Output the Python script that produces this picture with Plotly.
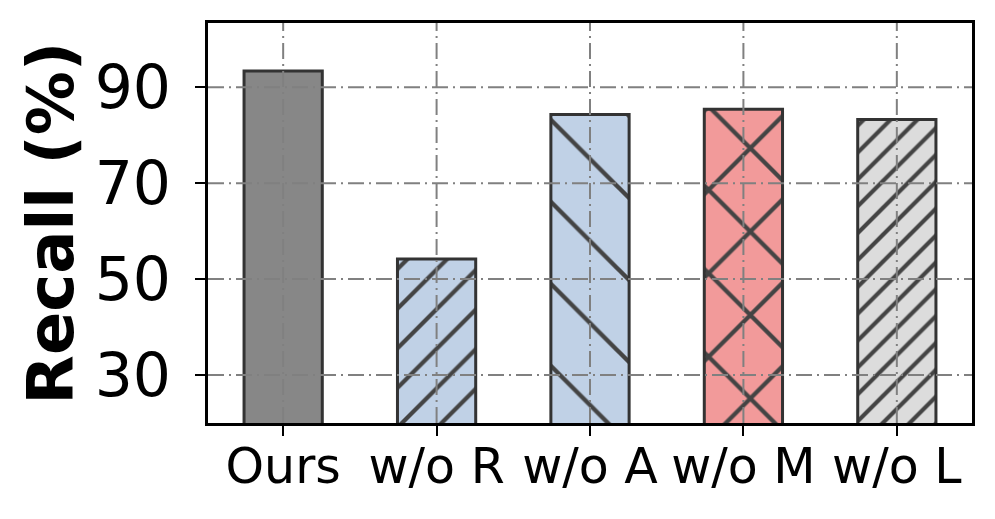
import plotly.graph_objects as go

categories = ["Ours", "w/o R", "w/o A", "w/o M", "w/o L"]
recall = [93.4, 54.2, 84.3, 85.4, 83.3]
fill_colors = ["#878787", "#c0d1e6", "#c0d1e6", "#f29a9a", "#dcdcdc"]
hatch_shapes = ["", "/", "\\", "x", "/"]
hatch_sizes = [10, 28, 58, 59, 19]
hatch_solidity = [0.2, 0.15, 0.075, 0.14, 0.22]
y_ticks = [30, 50, 70, 90]

FONT = "DejaVu Sans"
GRID = dict(color="#808080", width=2, dash="16px,5px,2px,5px")

fig = go.Figure(
    go.Bar(
        x=categories,
        y=recall,
        width=0.51,
        marker=dict(
            color=fill_colors,
            line=dict(color="#333333", width=3),
            pattern=dict(
                shape=hatch_shapes,
                size=hatch_sizes,
                solidity=hatch_solidity,
                fgcolor="#333333",
                fgopacity=1,
                fillmode="overlay",
            ),
        ),
    )
)

# grid drawn above the bars, like the reference
shapes = []
for c in categories:
    shapes.append(dict(type="line", xref="x", yref="paper", x0=c, x1=c,
                       y0=0, y1=1, line=GRID, layer="above"))
for v in y_ticks:
    shapes.append(dict(type="line", xref="paper", yref="y", x0=0, x1=1,
                       y0=v, y1=v, line=GRID, layer="above"))

# page body has an 8px margin, so the figure is a little smaller than the window
fig.update_layout(
    width=987,
    height=511,
    margin=dict(l=200, r=23, t=15, b=96),
    paper_bgcolor="white",
    plot_bgcolor="white",
    font=dict(family=FONT, color="black"),
    showlegend=False,
    shapes=shapes,
    annotations=[
        dict(text="<b>Recall (%)</b>", textangle=-90, xref="paper", yref="paper",
             x=-0.205, y=0.5, xanchor="center", yanchor="middle",
             showarrow=False, font=dict(size=64, family=FONT, color="black"))
    ],
)

fig.update_xaxes(
    range=[-0.49, 4.49],
    showgrid=False,
    showline=True, linecolor="black", linewidth=3, mirror=True,
    ticks="outside", ticklen=10, tickwidth=2, tickcolor="black",
    ticklabelstandoff=-12,
    tickfont=dict(size=49, family=FONT, color="black"),
)
fig.update_yaxes(
    range=[20, 103.4],
    tickvals=y_ticks,
    showgrid=False, zeroline=False,
    showline=True, linecolor="black", linewidth=3, mirror=True,
    ticks="outside", ticklen=10, tickwidth=2, tickcolor="black",
    ticklabelstandoff=12,
    tickfont=dict(size=60, family=FONT, color="black"),
)

fig.write_html("out.html")
